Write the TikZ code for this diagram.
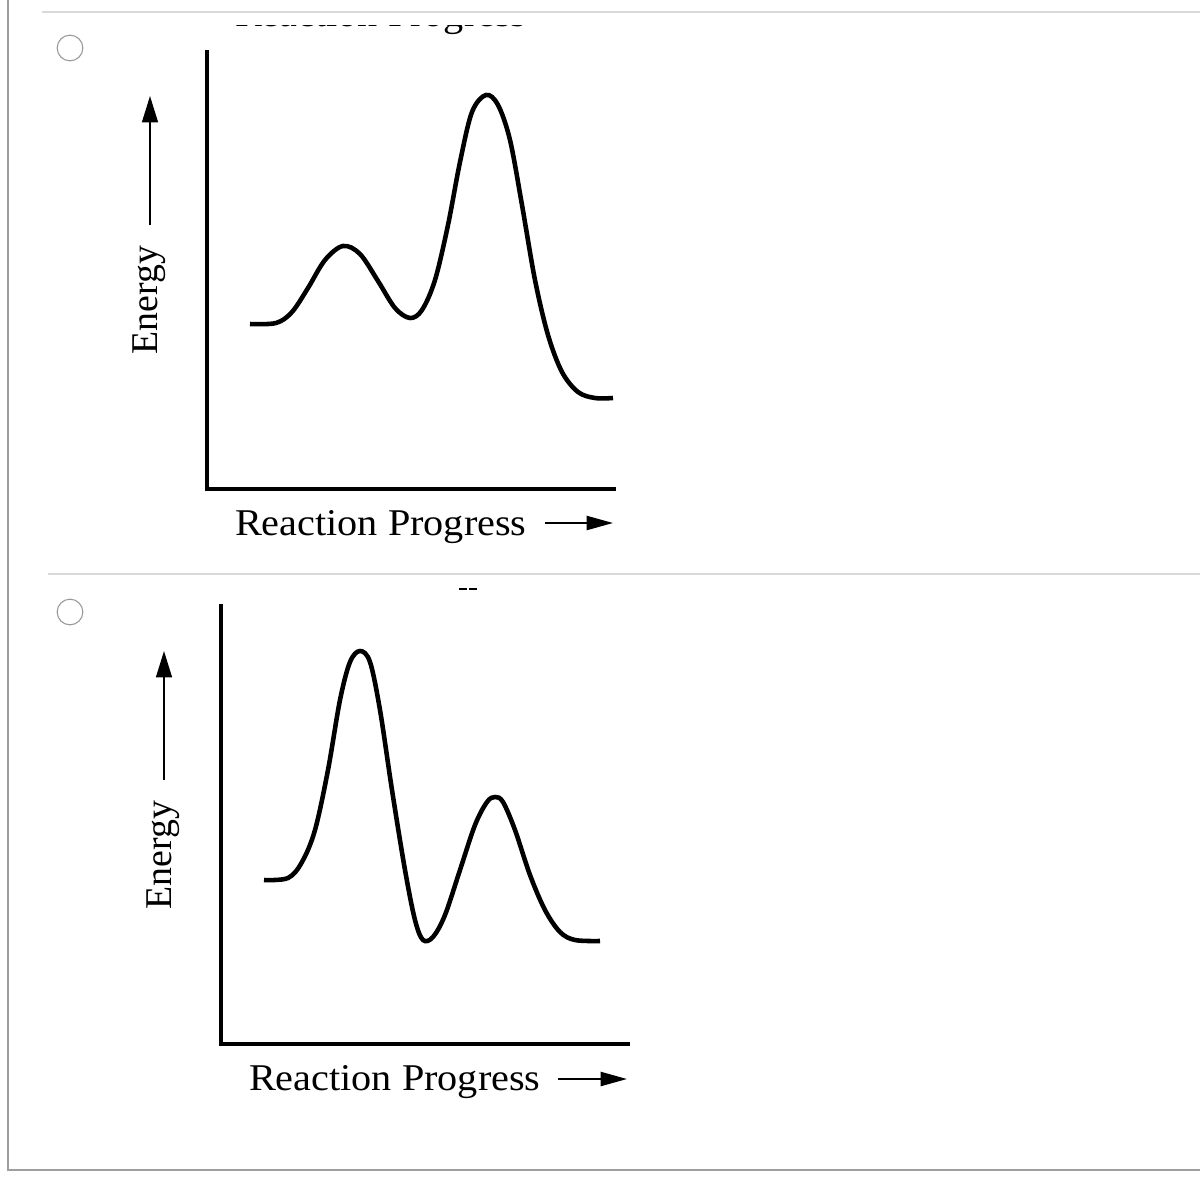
\documentclass[tikz,border=0pt]{standalone}
\usepackage{fontspec}
\setmainfont{Liberation Serif}
\usetikzlibrary{arrows.meta}
\begin{document}
\begin{tikzpicture}[x=0.02cm,y=-0.02cm,
  frameline/.style={draw=black!38,line width=1.2pt},
  divline/.style={draw=black!15,line width=1.2pt},
  radiobtn/.style={circle,draw=black!40,fill=white,line width=0.6pt,minimum size=14.6pt,inner sep=0pt},
  axisline/.style={line width=2.5pt,line cap=rect},
  curveline/.style={line width=2.6pt},
  lbl/.style={font=\fontsize{21.5}{24}\selectfont,inner sep=0pt,outer sep=0pt},
  uparrow/.style={line width=1.2pt,-{Triangle[length=15pt,width=9pt]}},
  rtarrow/.style={line width=1.2pt,-{Triangle[length=15pt,width=8pt]}}]
\useasboundingbox (0,0) rectangle (1200,1200);
\fill[white] (0,0) rectangle (1200,1200);
% cut-off text at top (only its lowest strip shows)
\node[lbl,anchor=base west] (cut) at (235,26.5) {\scalebox{1.065}[1]{Reaction Progress}};
\fill[white] (150,0) rectangle (600,25);
% frame
\draw[frameline] (8,0) -- (8,1170) -- (1200,1170);
\draw[divline] (42,12) -- (1200,12);
\draw[divline] (48,574) -- (1200,574);
% radio buttons
\node[radiobtn] (r1) at (70,48) {};
\node[radiobtn] (r2) at (70,612) {};
% small mark
\draw[line width=1.4pt] (459,589) -- (467,589) (469,589) -- (477,589);
% ---------- top diagram ----------
\coordinate (t0) at (207,52);
\coordinate (to) at (207,489);
\coordinate (tx) at (614,489);
\draw[axisline] (t0) -- (to) -- (tx);
\coordinate (ea1) at (150,225);
\coordinate (eb1) at (150,96);
\draw[uparrow] (ea1) -- (eb1);
\node[lbl,rotate=90,anchor=base] (en1) at (157,300) {Energy};
\node[lbl,anchor=base west] (rp1) at (235,535) {\scalebox{1.065}[1]{Reaction Progress}};
\coordinate (ra1) at (545,523);
\coordinate (rb1) at (613,523);
\draw[rtarrow] (ra1) -- (rb1);
\draw[curveline] plot[smooth,tension=0.55] coordinates {
 (250,324) (276,323) (292,312) (308,288) (325,260) (343,246) (360,254)
 (378,281) (395,308) (410,318) (422,310) (435,280) (448,225) (460,162)
 (472,112) (486,95) (498,105) (510,140) (522,205) (535,280) (548,335)
 (562,372) (578,392) (595,398) (613,398)};
% ---------- bottom diagram ----------
\coordinate (b0) at (221,606);
\coordinate (bo) at (221,1044);
\coordinate (bx) at (628,1044);
\draw[axisline] (b0) -- (bo) -- (bx);
\coordinate (ea2) at (164,780);
\coordinate (eb2) at (164,651);
\draw[uparrow] (ea2) -- (eb2);
\node[lbl,rotate=90,anchor=base] (en2) at (171,855) {Energy};
\node[lbl,anchor=base west] (rp2) at (249,1090) {\scalebox{1.065}[1]{Reaction Progress}};
\coordinate (ra2) at (558,1079);
\coordinate (rb2) at (627,1079);
\draw[rtarrow] (ra2) -- (rb2);
\draw[curveline] plot[smooth,tension=0.55] coordinates {
 (264,880) (288,878) (302,862) (315,830) (328,770) (340,700) (350,662)
 (360,651) (370,662) (380,710) (392,790) (405,870) (415,920) (423,940)
 (433,937) (445,915) (460,870) (475,825) (487,802) (495,797) (503,802)
 (515,830) (530,875) (545,910) (560,932) (575,940) (600,941)};
\end{tikzpicture}
\end{document}
